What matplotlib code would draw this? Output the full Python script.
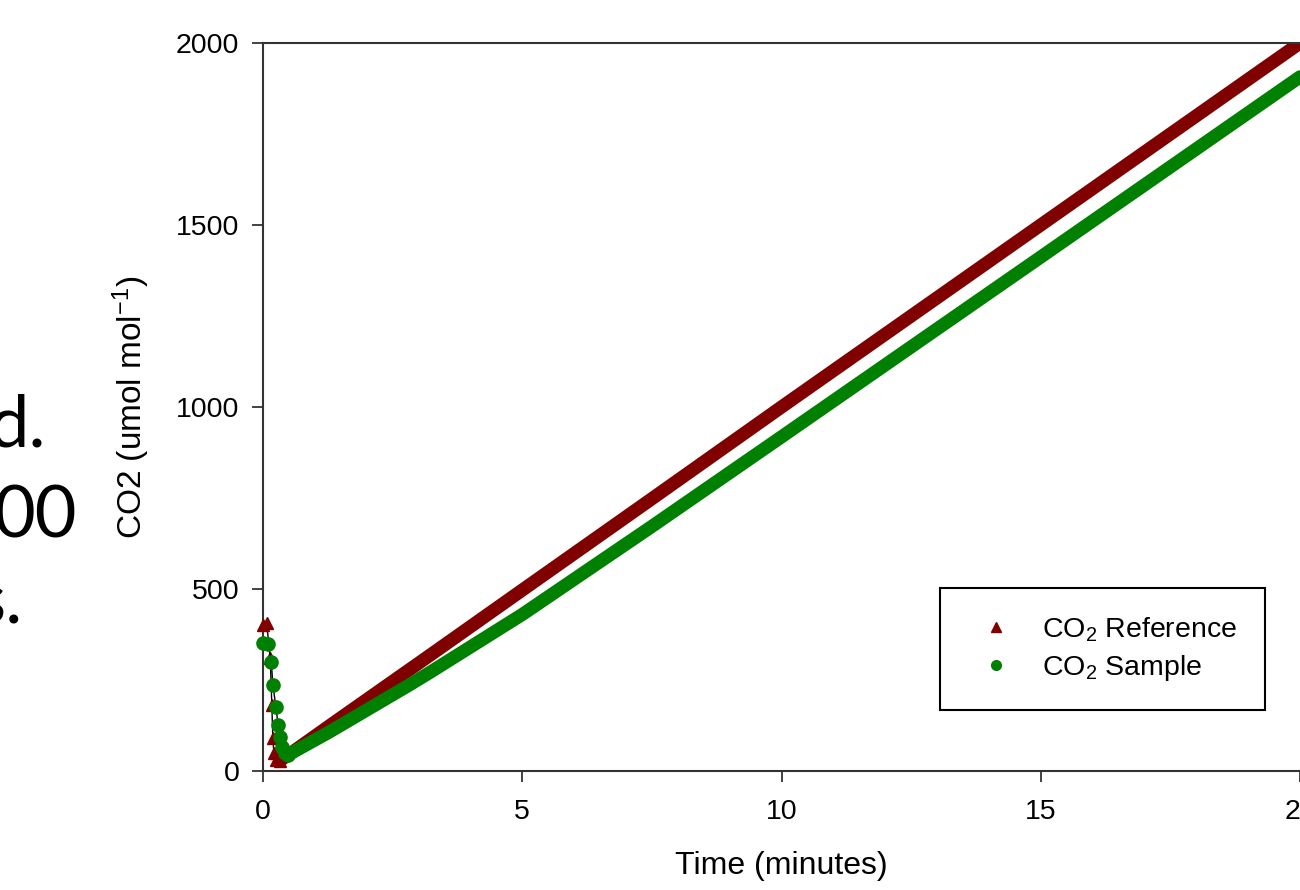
import matplotlib
matplotlib.use("Agg")
import matplotlib.pyplot as plt
from matplotlib.lines import Line2D

plt.rcParams['font.family'] = ['Liberation Sans', 'DejaVu Sans']
plt.rcParams['mathtext.fontset'] = 'custom'
plt.rcParams['mathtext.rm'] = 'Liberation Sans'
plt.rcParams['mathtext.it'] = 'Liberation Sans:italic'

# values (time in minutes, CO2 in umol/mol)
t_ref = [0.0, 0.07, 0.14, 0.17, 0.19, 0.21, 0.26, 0.32, 0.5, 1.29, 2.84, 3.22, 5, 7.5, 10, 15, 20]
co2_ref = [400, 407, 310, 181, 90, 49, 30, 28, 45, 125, 280, 318, 497, 748, 1000, 1500, 2000]
ref_min_idx = 7

t_smp = [0.0, 0.1, 0.16, 0.19, 0.25, 0.29, 0.32, 0.36, 0.42, 0.48, 1.29, 2.84, 3.22, 5, 7.5, 10, 15, 20]
co2_smp = [352, 348, 300, 236, 176, 126, 93, 66, 49, 44, 108, 238, 271, 430, 672, 918, 1412, 1907]
smp_min_idx = 9

x_ticks = [0, 5, 10, 15, 20]
y_ticks = [0, 500, 1000, 1500, 2000]

# slide text cut off at the left edge
slide_lines = ['d.', '00', 's.']

RED = '#800000'
GREEN = '#008000'

W, H = 1300, 890
fig = plt.figure(figsize=(13, 8.9), dpi=100)
ax = fig.add_axes([263 / W, 1 - 771 / H, (1300 - 263) / W, 728 / H])

# reference series: markers + black line on the fast drop, thick band afterwards
ax.plot(t_ref[ref_min_idx:], co2_ref[ref_min_idx:], color=RED, lw=9.5,
        solid_capstyle='round', solid_joinstyle='round', zorder=2)
ax.plot(t_ref[:ref_min_idx + 1], co2_ref[:ref_min_idx + 1], color='black', lw=1,
        marker='^', ms=9, mfc=RED, mec=RED, zorder=3, clip_on=False)

# sample series
ax.plot(t_smp[smp_min_idx:], co2_smp[smp_min_idx:], color=GREEN, lw=9.5,
        solid_capstyle='round', solid_joinstyle='round', zorder=4)
ax.plot(t_smp[:smp_min_idx + 1], co2_smp[:smp_min_idx + 1], color='black', lw=1,
        marker='o', ms=9.5, mfc=GREEN, mec=GREEN, zorder=5, clip_on=False)

ax.set_xlim(0, 20)
ax.set_ylim(0, 2000)
ax.set_xticks(x_ticks)
ax.set_yticks(y_ticks)
ax.tick_params(direction='out', length=8, width=1.2, colors='#222222',
               labelsize=20.5, labelcolor='black')
ax.tick_params(axis='y', pad=9)
ax.tick_params(axis='x', pad=12)

for side in ['left', 'bottom', 'top']:
    ax.spines[side].set_color('#333333')
    ax.spines[side].set_linewidth(1.5)
ax.spines['right'].set_visible(False)

ax.set_xlabel('Time (minutes)', fontsize=23)
ax.set_ylabel('CO2 (umol mol$^{-1}$)', fontsize=24)
ax.xaxis.set_label_coords(0.5, (771 - 851) / 728)
ax.yaxis.set_label_coords((152 - 263) / 1037, 0.5)

handles = [
    Line2D([], [], ls='none', marker='^', ms=7, color=RED),
    Line2D([], [], ls='none', marker='o', ms=7, color=GREEN),
]
leg = ax.legend(handles, ['CO$_2$ Reference', 'CO$_2$ Sample'],
                loc='upper left', bbox_to_anchor=(940 / W, 1 - 588 / H),
                bbox_transform=fig.transFigure, fontsize=20.5, frameon=True,
                fancybox=False, edgecolor='black', framealpha=1,
                borderpad=0.95, handlelength=2.0, handletextpad=0.65,
                labelspacing=0.33, borderaxespad=0)
leg.get_frame().set_linewidth(1.5)

# big slide text, right-aligned so it runs off the left edge
baselines = [446, 537, 624]
right_edges = [46, 77, 23]
for txt, yb, xr in zip(slide_lines, baselines, right_edges):
    fig.text(xr / W, 1 - yb / H, txt, ha='right', va='baseline',
             fontsize=52, family=['Lato', 'DejaVu Sans'], color='black')

fig.savefig('out.png', dpi=100)
